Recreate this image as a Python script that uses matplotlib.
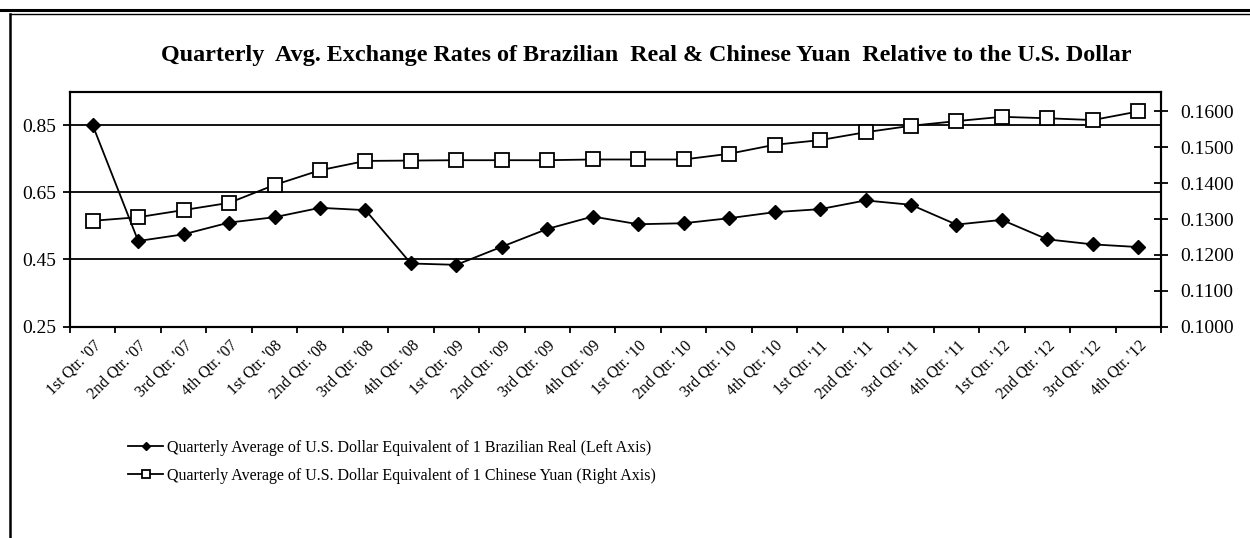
import numpy as np
import matplotlib.pyplot as plt
from matplotlib.lines import Line2D
from matplotlib.ticker import FormatStrFormatter

# quarterly averages
quarters = ["1st Qtr. '07", "2nd Qtr. '07", "3rd Qtr. '07", "4th Qtr. '07",
            "1st Qtr. '08", "2nd Qtr. '08", "3rd Qtr. '08", "4th Qtr. '08",
            "1st Qtr. '09", "2nd Qtr. '09", "3rd Qtr. '09", "4th Qtr. '09",
            "1st Qtr. '10", "2nd Qtr. '10", "3rd Qtr. '10", "4th Qtr. '10",
            "1st Qtr. '11", "2nd Qtr. '11", "3rd Qtr. '11", "4th Qtr. '11",
            "1st Qtr. '12", "2nd Qtr. '12", "3rd Qtr. '12", "4th Qtr. '12"]

# US$ per 1 Brazilian real (left axis)
real_usd = [0.850, 0.505, 0.525, 0.560, 0.576, 0.604, 0.597, 0.438,
            0.434, 0.488, 0.541, 0.578, 0.555, 0.558, 0.573, 0.591,
            0.600, 0.626, 0.613, 0.554, 0.568, 0.510, 0.495, 0.487]

# US$ per 1 Chinese yuan (right axis)
yuan_usd = [0.1295, 0.1305, 0.1325, 0.1345, 0.1395, 0.1436, 0.1462, 0.1463,
            0.1464, 0.1464, 0.1464, 0.1466, 0.1466, 0.1466, 0.1482, 0.1507,
            0.1520, 0.1542, 0.1560, 0.1573, 0.1585, 0.1581, 0.1576, 0.1600]

left_ticks = [0.25, 0.45, 0.65, 0.85]
right_ticks = [0.1000, 0.1100, 0.1200, 0.1300, 0.1400, 0.1500, 0.1600]

plt.rcParams['font.family'] = ['Liberation Serif', 'DejaVu Serif']

fig = plt.figure(figsize=(12.5, 5.38), dpi=100)
ax = fig.add_axes([0.056, 0.393, 0.8728, 0.4365])
ax2 = ax.twinx()

x = np.arange(len(quarters))
ax.plot(x, real_usd, color='black', lw=1.3, marker='D', ms=7.5,
        mfc='black', mec='black', zorder=3,
        label='Quarterly Average of U.S. Dollar Equivalent of 1 Brazilian Real (Left Axis)')
ax2.plot(x, yuan_usd, color='black', lw=1.3, marker='s', ms=10,
         mfc='white', mec='black', mew=1.3, zorder=3,
         label='Quarterly Average of U.S. Dollar Equivalent of 1 Chinese Yuan (Right Axis)')

ax.set_xlim(-0.5, len(quarters) - 0.5)
ax.set_ylim(0.25, 0.95)
ax2.set_ylim(0.10, 0.1655)

# left axis + gridlines
ax.set_yticks(left_ticks)
ax.yaxis.set_major_formatter(FormatStrFormatter('%.2f'))
ax.yaxis.grid(True, color='black', lw=1.3)
ax.set_axisbelow(True)
ax.tick_params(axis='y', direction='out', length=5, width=1.3, labelsize=14, pad=5)

# right axis
ax2.set_yticks(right_ticks)
ax2.yaxis.set_major_formatter(FormatStrFormatter('%.4f'))
ax2.tick_params(axis='y', direction='inout', length=10, width=1.3, labelsize=14, pad=9)

# category axis: ticks between categories, labels at centres
ax.set_xticks(np.arange(len(quarters) + 1) - 0.5)
ax.set_xticklabels([])
ax.tick_params(axis='x', which='major', direction='out', length=4, width=1.3)
ax.set_xticks(x, minor=True)
ax.set_xticklabels(quarters, minor=True, rotation=45, ha='right', va='top',
                   rotation_mode='anchor', fontsize=11.5)
ax.tick_params(axis='x', which='minor', length=0, pad=8)

for a in (ax, ax2):
    for s in a.spines.values():
        s.set_linewidth(1.5)
        s.set_color('black')

fig.text(0.517, 0.896,
         "Quarterly  Avg. Exchange Rates of Brazilian  Real & Chinese Yuan  Relative to the U.S. Dollar",
         ha='center', va='center', fontsize=17.4, fontweight='bold')

h1, l1 = ax.get_legend_handles_labels()
h2, l2 = ax2.get_legend_handles_labels()
leg = fig.legend(h1 + h2, l1 + l2, loc='upper left', bbox_to_anchor=(0.096, 0.197),
                 frameon=False, fontsize=11.55, handlelength=2.2, handletextpad=0.25,
                 labelspacing=0.72, markerscale=0.6, borderpad=0)

# outer frame of the scanned page
fig.add_artist(Line2D([0.0, 1.0], [0.9814, 0.9814], transform=fig.transFigure,
                      color='black', lw=2.2))
fig.add_artist(Line2D([0.008, 1.0], [0.974, 0.974], transform=fig.transFigure,
                      color='black', lw=1.0))
fig.add_artist(Line2D([0.008, 0.008], [0.974, 0.0], transform=fig.transFigure,
                      color='black', lw=1.8))

fig.savefig('out.png', dpi=100)
